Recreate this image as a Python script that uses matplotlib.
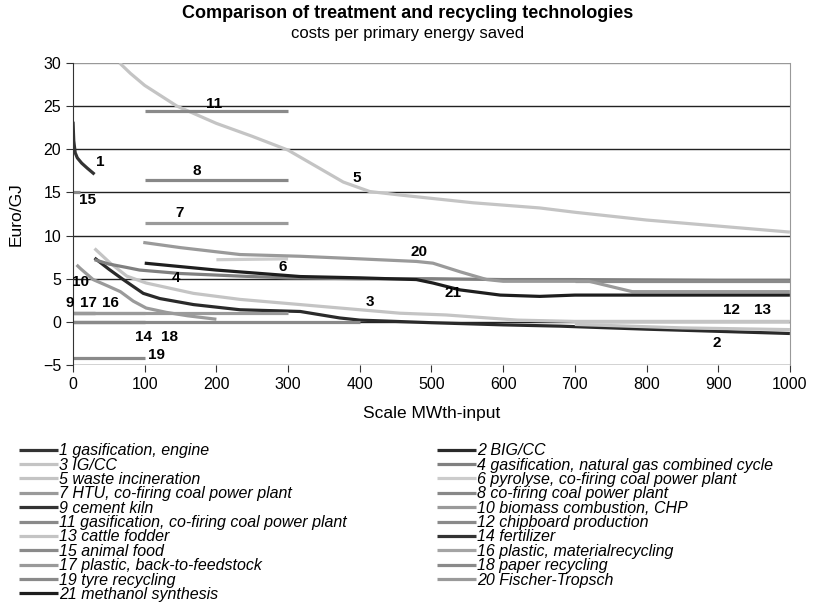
import matplotlib
matplotlib.use("Agg")
from matplotlib import pyplot as plt

# series: number -> (name, x values, y values, colour)
names = {
    1: "gasification, engine",
    2: "BIG/CC",
    3: "IG/CC",
    4: "gasification, natural gas combined cycle",
    5: "waste incineration",
    6: "pyrolyse, co-firing coal power plant",
    7: "HTU, co-firing coal power plant",
    8: "co-firing coal power plant",
    9: "cement kiln",
    10: "biomass combustion, CHP",
    11: "gasification, co-firing coal power plant",
    12: "chipboard production",
    13: "cattle fodder",
    14: "fertilizer",
    15: "animal food",
    16: "plastic, materialrecycling",
    17: "plastic, back-to-feedstock",
    18: "paper recycling",
    19: "tyre recycling",
    20: "Fischer-Tropsch",
    21: "methanol synthesis",
}

x1 = [0, 1, 3, 6, 12, 20, 30]
y1 = [23.2, 21.0, 19.6, 19.0, 18.4, 17.8, 17.1]
x2 = [30, 50, 70, 98, 121, 168, 233, 317, 372, 400, 500, 600, 680, 800, 900, 1000]
y2 = [7.4, 6.1, 4.9, 3.3, 2.7, 2.0, 1.4, 1.2, 0.45, 0.2, -0.1, -0.35, -0.5, -0.85, -1.1, -1.35]
x3 = [30, 52, 75, 102, 168, 233, 317, 456, 520, 620, 700, 800, 900, 1000]
y3 = [8.5, 6.8, 5.3, 4.5, 3.3, 2.6, 2.0, 1.0, 0.8, 0.2, 0.05, 0.05, 0.05, 0.05]
x4 = [30, 50, 75, 93, 150, 233, 300, 400, 500, 600, 700, 800, 900, 1000]
y4 = [7.2, 6.7, 6.3, 6.0, 5.6, 5.3, 5.1, 5.0, 5.0, 4.9, 4.9, 4.85, 4.8, 4.8]
x5 = [65, 80, 100, 145, 200, 250, 300, 350, 377, 414, 456, 558, 651, 700, 800, 900, 1000]
y5 = [30, 28.8, 27.4, 25.0, 23.0, 21.5, 19.9, 17.5, 16.2, 15.1, 14.7, 13.8, 13.2, 12.7, 11.8, 11.1, 10.4]
x6 = [200, 300]
y6 = [7.2, 7.3]
x7 = [100, 300]
y7 = [11.4, 11.4]
x8 = [100, 300]
y8 = [16.45, 16.45]
x9 = [0, 30]
y9 = [1.0, 1.0]
x10 = [5, 10, 28, 50, 66, 84, 102, 130, 160, 200]
y10 = [6.6, 6.2, 4.9, 4.1, 3.5, 2.4, 1.6, 1.1, 0.7, 0.3]
x11 = [100, 300]
y11 = [24.4, 24.4]
x12 = [700, 1000]
y12 = [4.75, 4.75]
x13 = [700, 850, 1000]
y13 = [-0.3, -0.7, -0.9]
x14 = [0, 100]
y14 = [-0.05, -0.05]
x15 = [0, 10]
y15 = [15.0, 15.0]
x16 = [0, 100]
y16 = [1.0, 1.0]
x17 = [0, 300]
y17 = [1.0, 1.0]
x18 = [0, 400]
y18 = [0.0, 0.0]
x19 = [0, 100]
y19 = [-4.2, -4.2]
x20 = [98, 150, 233, 317, 400, 479, 502, 540, 577, 600, 720, 780, 900, 1000]
y20 = [9.2, 8.6, 7.8, 7.6, 7.3, 7.0, 6.8, 5.8, 4.9, 4.7, 4.7, 3.5, 3.5, 3.5]
x21 = [100, 200, 317, 400, 479, 502, 540, 596, 651, 700, 800, 900, 1000]
y21 = [6.8, 6.0, 5.25, 5.1, 4.9, 4.5, 3.7, 3.1, 2.95, 3.1, 3.1, 3.1, 3.1]

colors = {1: "#333333", 2: "#2a2a2a", 3: "#c4c4c4", 4: "#808080", 5: "#c4c4c4",
          6: "#cccccc", 7: "#9a9a9a", 8: "#888888", 9: "#333333", 10: "#9a9a9a",
          11: "#8a8a8a", 12: "#8a8a8a", 13: "#c4c4c4", 14: "#333333", 15: "#8a8a8a",
          16: "#a4a4a4", 17: "#9a9a9a", 18: "#8a8a8a", 19: "#8a8a8a", 20: "#9a9a9a",
          21: "#1e1e1e"}

data = {1: (x1, y1), 2: (x2, y2), 3: (x3, y3), 4: (x4, y4), 5: (x5, y5), 6: (x6, y6),
        7: (x7, y7), 8: (x8, y8), 9: (x9, y9), 10: (x10, y10), 11: (x11, y11),
        12: (x12, y12), 13: (x13, y13), 14: (x14, y14), 15: (x15, y15), 16: (x16, y16),
        17: (x17, y17), 18: (x18, y18), 19: (x19, y19), 20: (x20, y20), 21: (x21, y21)}

# number labels written next to the curves
label_pos = {1: (38, 18.5), 11: (197, 25.3), 8: (172, 17.5), 7: (148, 12.6),
             5: (396, 16.7), 15: (20, 14.1), 20: (483, 8.1), 6: (293, 6.4),
             4: (144, 5.1), 10: (11, 4.6), 21: (530, 3.4), 3: (414, 2.3),
             9: (-4, 2.2), 17: (21, 2.2), 16: (52, 2.2), 14: (98, -1.7),
             18: (135, -1.7), 19: (117, -3.8), 12: (918, 1.4), 13: (962, 1.4),
             2: (898, -2.4)}

plt.rcParams['font.family'] = ['Liberation Sans', 'DejaVu Sans']

fig = plt.figure(figsize=(8.16, 6.08), dpi=100)
ax = fig.add_axes([0.0895, 0.3997, 0.8785, 0.4967])

for y in range(-5, 31, 5):
    ax.axhline(y, color="#222222" if y < 30 else "#999999", lw=1.0, zorder=1)

handles = {}
for n in range(1, 22):
    xs, ys = data[n]
    h, = ax.plot(xs, ys, color=colors[n], lw=2.3, solid_capstyle="butt", zorder=2,
                 label=f"{n} {names[n]}")
    handles[n] = h

for n, (tx, ty) in label_pos.items():
    ax.text(tx, ty, str(n), fontsize=11, fontweight="bold", ha="center", va="center", zorder=3)

ax.set_xlim(0, 1000)
ax.set_ylim(-5, 30)
ax.set_xticks(range(0, 1001, 100))
ax.set_yticks(range(-5, 31, 5))
ax.tick_params(labelsize=11.5, direction="out", length=5, color="#333333")
ax.spines["top"].set_visible(False)
ax.spines["right"].set_color("#999999")
ax.spines["left"].set_color("#333333")
ax.spines["bottom"].set_visible(False)
ax.set_ylabel("Euro/GJ", fontsize=12.5, labelpad=14)
ax.set_xlabel("Scale MWth-input", fontsize=12.5, labelpad=10)

fig.text(0.5, 0.978, "Comparison of treatment and recycling technologies",
         ha="center", va="center", fontsize=13, fontweight="bold")
fig.text(0.5, 0.945, "costs per primary energy saved", ha="center", va="center", fontsize=12)

order = [1, 3, 5, 7, 9, 11, 13, 15, 17, 19, 21, 2, 4, 6, 8, 10, 12, 14, 16, 18, 20]
leg = fig.legend([handles[n] for n in order], [handles[n].get_label() for n in order],
                 ncol=2, loc="upper left", bbox_to_anchor=(0.014, 0.284), frameon=False,
                 fontsize=11.5, labelspacing=-0.04, handlelength=2.4, handletextpad=0.1,
                 columnspacing=5.65, borderpad=0)
for t in leg.get_texts():
    t.set_style("italic")

fig.savefig("out.png", dpi=100)
